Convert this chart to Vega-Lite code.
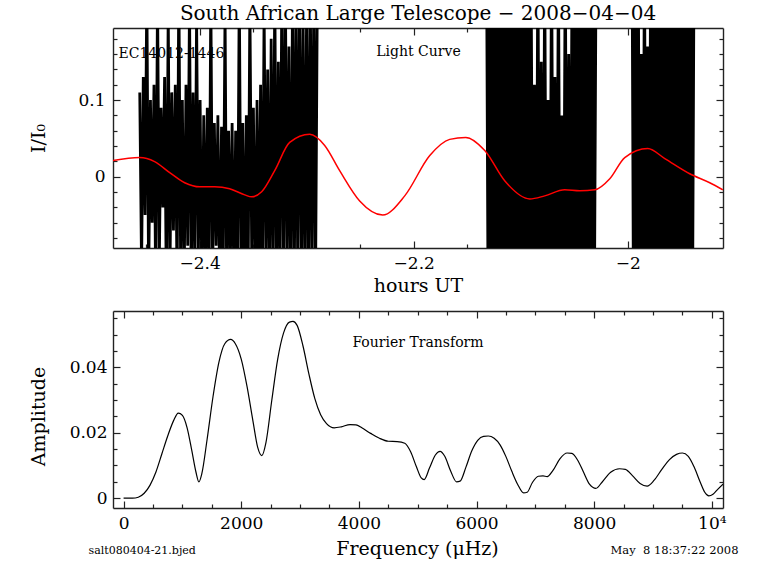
{
"$schema": "https://vega.github.io/schema/vega-lite/v6.json",
"background": "white",
"padding": {"left": 29, "top": 4, "right": 5, "bottom": 5},
"spacing": 14,
"config": {
 "view": {"stroke": null},
 "axis": {"grid": false, "domainColor": "#222", "domainWidth": 1.4, "tickColor": "#222", "tickWidth": 1.2, "labelFont": "DejaVu Serif", "labelFontSize": 17, "labelColor": "#000", "titleFont": "DejaVu Serif", "titleFontSize": 19, "titleFontWeight": "normal", "titleColor": "#000", "labelFlush": false, "labelOverlap": false},
 "title": {"font": "DejaVu Serif", "fontWeight": "normal", "color": "#000"}
},
"vconcat": [
{
 "width": 610, "height": 220,
 "title": {"text": "South African Large Telescope − 2008−04−04", "frame": "group", "anchor": "middle", "fontSize": 20, "offset": 3},
 "layer": [
  {
   "data": {"values": [
{"s":1,"t":-2.4560,"v":0.11},{"s":1,"t":-2.4543,"v":-0.12},{"s":1,"t":-2.4527,"v":0.13},{"s":1,"t":-2.4510,"v":-0.05},{"s":1,"t":-2.4494,"v":0.25},{"s":1,"t":-2.4477,"v":-0.14},{"s":1,"t":-2.4460,"v":0.10},{"s":1,"t":-2.4444,"v":-0.06},{"s":1,"t":-2.4427,"v":0.12},{"s":1,"t":-2.4411,"v":-0.15},
{"s":1,"t":-2.4394,"v":0.24},{"s":1,"t":-2.4377,"v":-0.11},{"s":1,"t":-2.4361,"v":0.09},{"s":1,"t":-2.4344,"v":-0.04},{"s":1,"t":-2.4328,"v":0.13},{"s":1,"t":-2.4311,"v":-0.16},{"s":1,"t":-2.4294,"v":0.22},{"s":1,"t":-2.4278,"v":-0.13},{"s":1,"t":-2.4261,"v":0.11},{"s":1,"t":-2.4245,"v":-0.07},
{"s":1,"t":-2.4228,"v":0.12},{"s":1,"t":-2.4211,"v":-0.15},{"s":1,"t":-2.4195,"v":0.26},{"s":1,"t":-2.4178,"v":-0.12},{"s":1,"t":-2.4162,"v":0.10},{"s":1,"t":-2.4145,"v":-0.14},{"s":1,"t":-2.4128,"v":0.12},{"s":1,"t":-2.4112,"v":-0.09},{"s":1,"t":-2.4095,"v":0.23},{"s":1,"t":-2.4079,"v":-0.15},
{"s":1,"t":-2.4062,"v":0.11},{"s":1,"t":-2.4045,"v":-0.13},{"s":1,"t":-2.4029,"v":0.21},{"s":1,"t":-2.4012,"v":-0.10},{"s":1,"t":-2.3996,"v":0.10},{"s":1,"t":-2.3979,"v":-0.15},{"s":1,"t":-2.3962,"v":0.08},{"s":1,"t":-2.3946,"v":-0.12},{"s":1,"t":-2.3929,"v":0.09},{"s":1,"t":-2.3913,"v":-0.16},
{"s":1,"t":-2.3896,"v":0.24},{"s":1,"t":-2.3879,"v":-0.13},{"s":1,"t":-2.3863,"v":0.07},{"s":1,"t":-2.3846,"v":-0.09},{"s":1,"t":-2.3830,"v":0.08},{"s":1,"t":-2.3813,"v":-0.15},{"s":1,"t":-2.3796,"v":0.065},{"s":1,"t":-2.3780,"v":-0.12},{"s":1,"t":-2.3763,"v":0.22},{"s":1,"t":-2.3747,"v":-0.16},
{"s":1,"t":-2.3730,"v":0.06},{"s":1,"t":-2.3713,"v":-0.11},{"s":1,"t":-2.3697,"v":0.07},{"s":1,"t":-2.3680,"v":-0.15},{"s":1,"t":-2.3664,"v":0.06},{"s":1,"t":-2.3647,"v":-0.14},{"s":1,"t":-2.3630,"v":0.25},{"s":1,"t":-2.3614,"v":-0.12},{"s":1,"t":-2.3597,"v":0.07},{"s":1,"t":-2.3581,"v":-0.16},
{"s":1,"t":-2.3564,"v":0.08},{"s":1,"t":-2.3547,"v":-0.13},{"s":1,"t":-2.3531,"v":0.23},{"s":1,"t":-2.3514,"v":-0.10},{"s":1,"t":-2.3498,"v":0.09},{"s":1,"t":-2.3481,"v":-0.15},{"s":1,"t":-2.3464,"v":0.10},{"s":1,"t":-2.3448,"v":-0.14},{"s":1,"t":-2.3431,"v":0.12},{"s":1,"t":-2.3415,"v":-0.16},
{"s":1,"t":-2.3398,"v":0.22},{"s":1,"t":-2.3381,"v":-0.12},{"s":1,"t":-2.3365,"v":0.14},{"s":1,"t":-2.3348,"v":-0.15},{"s":1,"t":-2.3332,"v":0.18},{"s":1,"t":-2.3315,"v":-0.13},{"s":1,"t":-2.3298,"v":0.25},{"s":1,"t":-2.3282,"v":-0.16},{"s":1,"t":-2.3265,"v":0.15},{"s":1,"t":-2.3249,"v":-0.14},
{"s":1,"t":-2.3232,"v":0.26},{"s":1,"t":-2.3215,"v":-0.15},{"s":1,"t":-2.3199,"v":0.24},{"s":1,"t":-2.3182,"v":-0.12},{"s":1,"t":-2.3166,"v":0.17},{"s":1,"t":-2.3149,"v":-0.16},{"s":1,"t":-2.3132,"v":0.25},{"s":1,"t":-2.3116,"v":-0.14},{"s":1,"t":-2.3099,"v":0.23},{"s":1,"t":-2.3083,"v":-0.15},
{"s":1,"t":-2.3066,"v":0.26},{"s":1,"t":-2.3049,"v":-0.13},{"s":1,"t":-2.3033,"v":0.20},{"s":1,"t":-2.3016,"v":-0.16},{"s":1,"t":-2.3000,"v":0.25},{"s":1,"t":-2.2983,"v":-0.14},{"s":1,"t":-2.2966,"v":0.24},{"s":1,"t":-2.2950,"v":-0.15},{"s":1,"t":-2.2933,"v":0.26},{"s":1,"t":-2.2917,"v":-0.13},
{"s":1,"t":-2.2900,"v":0.25},
{"s":2,"t":-2.1320,"v":0.3},{"s":2,"t":-2.1304,"v":-0.2},{"s":2,"t":-2.1288,"v":0.28},{"s":2,"t":-2.1272,"v":-0.18},{"s":2,"t":-2.1256,"v":0.3},{"s":2,"t":-2.1240,"v":-0.22},{"s":2,"t":-2.1224,"v":0.3},{"s":2,"t":-2.1208,"v":-0.2},{"s":2,"t":-2.1192,"v":0.27},{"s":2,"t":-2.1176,"v":-0.19},
{"s":2,"t":-2.1160,"v":0.3},{"s":2,"t":-2.1144,"v":-0.21},{"s":2,"t":-2.1128,"v":0.29},{"s":2,"t":-2.1112,"v":-0.2},{"s":2,"t":-2.1096,"v":0.3},{"s":2,"t":-2.1080,"v":-0.18},{"s":2,"t":-2.1064,"v":0.3},{"s":2,"t":-2.1048,"v":-0.22},{"s":2,"t":-2.1032,"v":0.28},{"s":2,"t":-2.1016,"v":-0.2},
{"s":2,"t":-2.1000,"v":0.3},{"s":2,"t":-2.0984,"v":-0.19},{"s":2,"t":-2.0968,"v":0.3},{"s":2,"t":-2.0952,"v":-0.21},{"s":2,"t":-2.0936,"v":0.27},{"s":2,"t":-2.0920,"v":-0.2},{"s":2,"t":-2.0904,"v":0.3},{"s":2,"t":-2.0888,"v":-0.18},{"s":2,"t":-2.0872,"v":0.12},{"s":2,"t":-2.0856,"v":-0.22},
{"s":2,"t":-2.0840,"v":0.3},{"s":2,"t":-2.0824,"v":-0.2},{"s":2,"t":-2.0808,"v":0.15},{"s":2,"t":-2.0792,"v":-0.19},{"s":2,"t":-2.0776,"v":0.28},{"s":2,"t":-2.0760,"v":-0.21},{"s":2,"t":-2.0744,"v":0.10},{"s":2,"t":-2.0728,"v":-0.2},{"s":2,"t":-2.0712,"v":0.3},{"s":2,"t":-2.0696,"v":-0.18},
{"s":2,"t":-2.0680,"v":0.13},{"s":2,"t":-2.0664,"v":-0.22},{"s":2,"t":-2.0648,"v":0.29},{"s":2,"t":-2.0632,"v":-0.2},{"s":2,"t":-2.0616,"v":0.08},{"s":2,"t":-2.0600,"v":-0.19},{"s":2,"t":-2.0584,"v":0.3},{"s":2,"t":-2.0568,"v":-0.21},{"s":2,"t":-2.0552,"v":0.16},{"s":2,"t":-2.0536,"v":-0.2},
{"s":2,"t":-2.0520,"v":0.3},{"s":2,"t":-2.0504,"v":-0.18},{"s":2,"t":-2.0488,"v":0.28},{"s":2,"t":-2.0472,"v":-0.22},{"s":2,"t":-2.0456,"v":0.3},{"s":2,"t":-2.0440,"v":-0.2},{"s":2,"t":-2.0424,"v":0.27},{"s":2,"t":-2.0408,"v":-0.19},{"s":2,"t":-2.0392,"v":0.3},{"s":2,"t":-2.0376,"v":-0.21},
{"s":2,"t":-2.0360,"v":0.29},{"s":2,"t":-2.0344,"v":-0.2},{"s":2,"t":-2.0328,"v":0.3},{"s":2,"t":-2.0312,"v":-0.18},{"s":2,"t":-2.0296,"v":0.28},
{"s":3,"t":-1.9960,"v":0.3},{"s":3,"t":-1.9946,"v":-0.2},{"s":3,"t":-1.9931,"v":0.28},{"s":3,"t":-1.9917,"v":-0.19},{"s":3,"t":-1.9902,"v":0.3},{"s":3,"t":-1.9888,"v":-0.21},{"s":3,"t":-1.9873,"v":0.16},{"s":3,"t":-1.9859,"v":-0.2},{"s":3,"t":-1.9844,"v":0.3},{"s":3,"t":-1.9830,"v":-0.18},
{"s":3,"t":-1.9815,"v":0.17},{"s":3,"t":-1.9801,"v":-0.22},{"s":3,"t":-1.9786,"v":0.29},{"s":3,"t":-1.9772,"v":-0.2},{"s":3,"t":-1.9757,"v":0.21},{"s":3,"t":-1.9743,"v":-0.19},{"s":3,"t":-1.9728,"v":0.3},{"s":3,"t":-1.9714,"v":-0.21},{"s":3,"t":-1.9699,"v":0.28},{"s":3,"t":-1.9685,"v":-0.2},
{"s":3,"t":-1.9670,"v":0.3},{"s":3,"t":-1.9656,"v":-0.18},{"s":3,"t":-1.9641,"v":0.27},{"s":3,"t":-1.9627,"v":-0.22},{"s":3,"t":-1.9612,"v":0.3},{"s":3,"t":-1.9598,"v":-0.2},{"s":3,"t":-1.9583,"v":0.29},{"s":3,"t":-1.9569,"v":-0.19},{"s":3,"t":-1.9554,"v":0.3},{"s":3,"t":-1.9540,"v":-0.21},
{"s":3,"t":-1.9525,"v":0.28},{"s":3,"t":-1.9511,"v":-0.2},{"s":3,"t":-1.9496,"v":0.3},{"s":3,"t":-1.9482,"v":-0.18},{"s":3,"t":-1.9467,"v":0.27},{"s":3,"t":-1.9453,"v":-0.22},{"s":3,"t":-1.9438,"v":0.3},{"s":3,"t":-1.9424,"v":-0.2},{"s":3,"t":-1.9409,"v":0.29},{"s":3,"t":-1.9395,"v":-0.19},
{"s":3,"t":-1.9380,"v":0.3}
   ]},
   "mark": {"type": "line", "color": "#000", "strokeWidth": 2.8, "strokeJoin": "bevel", "clip": true},
   "encoding": {
    "x": {"field": "t", "type": "quantitative", "scale": {"domain": [-2.481, -1.911], "nice": false, "zero": false},
     "axis": {"orient": "bottom", "values": [-2.45,-2.4,-2.35,-2.3,-2.25,-2.2,-2.15,-2.1,-2.05,-2,-1.95], "labelExpr": "abs(datum.value*5-round(datum.value*5))<0.001 ? format(datum.value,'~g') : ''", "tickSize": {"condition": {"test": "abs(datum.value*5-round(datum.value*5))<0.001", "value": -7}, "value": -4}, "labelPadding": 14, "title": "hours UT", "titleX": 305, "titleY": 37, "titleBaseline": "middle", "titleAlign": "center"}},
    "y": {"field": "v", "type": "quantitative", "scale": {"domain": [-0.093, 0.194], "nice": false, "zero": false},
     "axis": {"orient": "left", "values": [-0.08,-0.06,-0.04,-0.02,0,0.02,0.04,0.06,0.08,0.1,0.12,0.14,0.16,0.18], "labelExpr": "abs(datum.value*10-round(datum.value*10))<0.001 ? format(datum.value,'~g') : ''", "tickSize": {"condition": {"test": "abs(datum.value*10-round(datum.value*10))<0.001", "value": -7}, "value": -4}, "labelPadding": 15, "title": "I/I₀", "titleX": -65, "titleY": 110, "titleBaseline": "bottom", "titleAlign": "center"}},
    "detail": {"field": "s", "type": "nominal"}
   }
  },
  {
   "data": {"values": [
{"t":-2.4813,"v":0.021},{"t":-2.4561,"v":0.025},{"t":-2.4421,"v":0.0197},{"t":-2.4280,"v":0.0053},{"t":-2.4140,"v":-0.0079},{"t":-2.4000,"v":-0.0132},{"t":-2.3860,"v":-0.0132},{"t":-2.3720,"v":-0.0158},{"t":-2.3579,"v":-0.0237},{"t":-2.3514,"v":-0.0263},{"t":-2.3421,"v":-0.0197},{"t":-2.3299,"v":0.0079},{"t":-2.3159,"v":0.0447},{"t":-2.2972,"v":0.0553},{"t":-2.2832,"v":0.0408},{"t":-2.2692,"v":0.0079},{"t":-2.2505,"v":-0.0316},{"t":-2.2290,"v":-0.05},{"t":-2.2084,"v":-0.025},{"t":-2.1850,"v":0.0276},{"t":-2.1664,"v":0.0487},{"t":-2.1514,"v":0.0513},{"t":-2.1336,"v":0.0342},{"t":-2.1150,"v":-0.0053},{"t":-2.0916,"v":-0.029},{"t":-2.0776,"v":-0.025},{"t":-2.0589,"v":-0.0171},{"t":-2.0449,"v":-0.0184},{"t":-2.0308,"v":-0.0171},{"t":-2.0168,"v":-0.0026},{"t":-2.0028,"v":0.025},{"t":-1.9813,"v":0.0368},{"t":-1.9654,"v":0.0237},{"t":-1.9421,"v":0.0039},{"t":-1.9234,"v":-0.0079},{"t":-1.9112,"v":-0.0171}
   ]},
   "mark": {"type": "line", "color": "#ff0000", "strokeWidth": 1.5, "interpolate": "monotone", "clip": true},
   "encoding": {
    "x": {"field": "t", "type": "quantitative",
     "axis": {"orient": "top", "values": [-2.45,-2.4,-2.35,-2.3,-2.25,-2.2,-2.15,-2.1,-2.05,-2,-1.95], "labels": false, "tickSize": {"condition": {"test": "abs(datum.value*5-round(datum.value*5))<0.001", "value": -7}, "value": -4}, "title": "Light Curve", "titleFontSize": 14, "titleX": 305, "titleY": 23, "titleBaseline": "middle", "titleAlign": "center"}},
    "y": {"field": "v", "type": "quantitative",
     "axis": {"orient": "right", "values": [-0.08,-0.06,-0.04,-0.02,0,0.02,0.04,0.06,0.08,0.1,0.12,0.14,0.16,0.18], "labels": false, "tickSize": {"condition": {"test": "abs(datum.value*10-round(datum.value*10))<0.001", "value": -7}, "value": -4}, "title": "EC14012-1446", "titleAngle": 0, "titleFontSize": 14, "titleX": -605, "titleY": 25, "titleAlign": "left", "titleBaseline": "middle"}}
   }
  }
 ],
 "resolve": {"axis": {"x": "independent", "y": "independent"}}
},
{
 "width": 610, "height": 197,
 "title": {"text": "Fourier Transform", "frame": "group", "anchor": "middle", "fontSize": 14, "offset": -48, "baseline": "middle"},
 "data": {"values": [
{"f":0,"a":0},{"f":150,"a":0},{"f":250,"a":0.0003},{"f":350,"a":0.0015},{"f":450,"a":0.004},{"f":550,"a":0.008},{"f":650,"a":0.0135},{"f":750,"a":0.019},{"f":850,"a":0.0237},{"f":930,"a":0.026},
{"f":1000,"a":0.0253},{"f":1080,"a":0.0215},{"f":1160,"a":0.0145},{"f":1230,"a":0.008},{"f":1280,"a":0.005},{"f":1330,"a":0.0075},{"f":1420,"a":0.018},{"f":1520,"a":0.031},{"f":1620,"a":0.0415},{"f":1720,"a":0.0472},
{"f":1820,"a":0.0485},{"f":1900,"a":0.0472},{"f":2000,"a":0.0425},{"f":2100,"a":0.034},{"f":2200,"a":0.0235},{"f":2280,"a":0.0155},{"f":2350,"a":0.013},{"f":2420,"a":0.017},{"f":2520,"a":0.03},{"f":2620,"a":0.0425},
{"f":2720,"a":0.0505},{"f":2820,"a":0.0538},{"f":2880,"a":0.054},{"f":2950,"a":0.0528},{"f":3050,"a":0.0465},{"f":3150,"a":0.038},{"f":3250,"a":0.0305},{"f":3350,"a":0.0255},{"f":3450,"a":0.0228},{"f":3580,"a":0.0215},
{"f":3700,"a":0.0218},{"f":3850,"a":0.0225},{"f":3950,"a":0.0224},{"f":4050,"a":0.0215},{"f":4200,"a":0.0198},{"f":4350,"a":0.0183},{"f":4500,"a":0.0174},{"f":4650,"a":0.0173},{"f":4780,"a":0.0168},{"f":4880,"a":0.0142},
{"f":4980,"a":0.0095},{"f":5060,"a":0.0062},{"f":5110,"a":0.0057},{"f":5200,"a":0.0092},{"f":5300,"a":0.0132},{"f":5380,"a":0.0143},{"f":5460,"a":0.0128},{"f":5560,"a":0.0083},{"f":5660,"a":0.005},{"f":5720,"a":0.0052},
{"f":5820,"a":0.0095},{"f":5920,"a":0.0145},{"f":6020,"a":0.0177},{"f":6120,"a":0.0189},{"f":6200,"a":0.019},{"f":6300,"a":0.0183},{"f":6400,"a":0.0163},{"f":6500,"a":0.0127},{"f":6600,"a":0.0082},{"f":6700,"a":0.0042},
{"f":6800,"a":0.0016},{"f":6860,"a":0.0018},{"f":6950,"a":0.0048},{"f":7050,"a":0.0067},{"f":7130,"a":0.0068},{"f":7200,"a":0.0066},{"f":7300,"a":0.0085},{"f":7420,"a":0.0121},{"f":7540,"a":0.0138},{"f":7620,"a":0.0137},
{"f":7720,"a":0.0116},{"f":7820,"a":0.0079},{"f":7920,"a":0.0043},{"f":8030,"a":0.003},{"f":8130,"a":0.0048},{"f":8280,"a":0.0079},{"f":8430,"a":0.009},{"f":8530,"a":0.0088},{"f":8650,"a":0.0069},{"f":8780,"a":0.0045},
{"f":8900,"a":0.0037},{"f":9020,"a":0.0055},{"f":9150,"a":0.0088},{"f":9280,"a":0.0118},{"f":9400,"a":0.0134},{"f":9500,"a":0.0138},{"f":9600,"a":0.0128},{"f":9700,"a":0.0095},{"f":9800,"a":0.005},{"f":9880,"a":0.0018},
{"f":9950,"a":0.0007},{"f":10020,"a":0.0012},{"f":10100,"a":0.0027},{"f":10190,"a":0.0043}
 ]},
 "layer": [
  {
   "mark": {"type": "line", "color": "#000", "strokeWidth": 1.2, "interpolate": "monotone", "clip": true},
   "encoding": {
    "x": {"field": "f", "type": "quantitative", "scale": {"domain": [-180, 10190], "nice": false, "zero": false},
     "axis": {"orient": "bottom", "values": [0,500,1000,1500,2000,2500,3000,3500,4000,4500,5000,5500,6000,6500,7000,7500,8000,8500,9000,9500,10000], "labelExpr": "datum.value == 10000 ? '10⁴' : (datum.value % 2000 == 0 ? format(datum.value,'d') : '')", "tickSize": {"condition": {"test": "datum.value % 2000 == 0", "value": -7}, "value": -4}, "labelPadding": 14, "title": "Frequency (μHz)", "titleX": 304, "titleY": 40, "titleBaseline": "middle", "titleAlign": "center"}},
    "y": {"field": "a", "type": "quantitative", "scale": {"domain": [-0.003, 0.0572], "nice": false, "zero": false},
     "axis": {"orient": "left", "values": [0,0.005,0.01,0.015,0.02,0.025,0.03,0.035,0.04,0.045,0.05,0.055], "labelExpr": "abs(datum.value*50-round(datum.value*50))<0.001 ? format(datum.value,'~g') : ''", "tickSize": {"condition": {"test": "abs(datum.value*50-round(datum.value*50))<0.001", "value": -7}, "value": -4}, "labelPadding": 13, "title": "Amplitude", "titleX": -65, "titleY": 105, "titleBaseline": "bottom", "titleAlign": "center"}}
   }
  },
  {
   "mark": {"type": "line", "strokeOpacity": 0, "clip": true},
   "encoding": {
    "x": {"field": "f", "type": "quantitative",
     "axis": {"orient": "top", "values": [0,500,1000,1500,2000,2500,3000,3500,4000,4500,5000,5500,6000,6500,7000,7500,8000,8500,9000,9500,10000], "labels": false, "tickSize": {"condition": {"test": "datum.value % 2000 == 0", "value": -7}, "value": -4}, "title": "salt080404-21.bjed", "titleFontSize": 11, "titleX": -25, "titleY": 239, "titleAlign": "left", "titleBaseline": "middle"}},
    "y": {"field": "a", "type": "quantitative",
     "axis": {"orient": "right", "values": [0,0.005,0.01,0.015,0.02,0.025,0.03,0.035,0.04,0.045,0.05,0.055], "labels": false, "tickSize": {"condition": {"test": "abs(datum.value*50-round(datum.value*50))<0.001", "value": -7}, "value": -4}, "title": "May \u00a08 18:37:22 2008", "titleAngle": 0, "titleFontSize": 11.5, "titleX": 15, "titleY": 239, "titleAlign": "right", "titleBaseline": "middle"}}
   }
  }
 ],
 "resolve": {"axis": {"x": "independent", "y": "independent"}}
}
]
}
